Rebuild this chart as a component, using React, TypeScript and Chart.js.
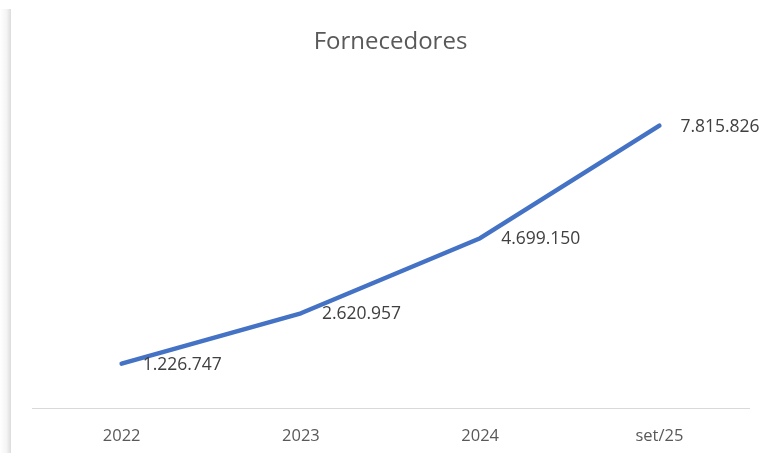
import React, { useEffect, useRef } from "react";
import { Chart, registerables } from "chart.js";

Chart.register(...registerables);

const categories = ["2022", "2023", "2024", "set/25"];
const values = [1226747, 2620957, 4699150, 7815826];
const chartTitle = "Fornecedores";

function fmt(n: number): string {
  return String(n).replace(/\B(?=(\d{3})+(?!\d))/g, ".");
}

const FONT = "'Open Sans', 'Noto Sans', sans-serif";

const labelPlugin = {
  id: "valueLabels",
  afterDatasetsDraw(chart: any) {
    const ctx = chart.ctx;
    const meta = chart.getDatasetMeta(0);
    ctx.save();
    ctx.font = "17.5px " + FONT;
    ctx.fillStyle = "#404040";
    ctx.textAlign = "left";
    ctx.textBaseline = "middle";
    meta.data.forEach((pt: any, i: number) => {
      ctx.fillText(fmt(values[i]), pt.x + 21, pt.y + 1);
    });
    ctx.restore();
  },
};

export default function App() {
  const ref = useRef<HTMLCanvasElement>(null);
  useEffect(() => {
    if (!ref.current) return;
    const chart = new Chart(ref.current, {
      type: "line",
      data: {
        labels: categories,
        datasets: [
          {
            data: values,
            borderColor: "#4472C4",
            borderWidth: 4.5,
            borderCapStyle: "round",
            borderJoinStyle: "round",
            pointRadius: 0,
            pointHoverRadius: 0,
            tension: 0,
            fill: false,
          },
        ],
      },
      options: {
        animation: false,
        responsive: false,
        maintainAspectRatio: false,
        layout: { padding: { left: 32, right: 11, top: 0, bottom: 0 } },
        plugins: {
          legend: { display: false },
          tooltip: { enabled: false },
          title: {
            display: true,
            text: chartTitle,
            color: "#595959",
            font: { family: FONT, size: 24, weight: "normal" },
            padding: { top: 28, bottom: 26 },
          },
        },
        scales: {
          x: {
            offset: true,
            grid: { display: false, drawTicks: false },
            border: { display: true, color: "#d9d9d9", width: 1 },
            ticks: {
              color: "#595959",
              font: { family: FONT, size: 16.5 },
              padding: 18,
              maxRotation: 0,
            },
            afterFit: (scale: any) => {
              scale.height = 45;
            },
          },
          y: {
            display: false,
            min: 0,
            max: 9000000,
          },
        },
      },
      plugins: [labelPlugin],
    });
    return () => chart.destroy();
  }, []);
  return (
    <div style={{ position: "fixed", left: 0, top: 0, width: 760, height: 453, background: "#fff" }}>
      <div
        style={{
          position: "absolute",
          left: 0,
          top: 9,
          width: 11,
          bottom: 0,
          background: "linear-gradient(to right, #ffffff 0%, #f4f4f4 60%, #dcdcdc 100%)",
        }}
      />
      <canvas ref={ref} width={760} height={453} style={{ position: "absolute", left: 0, top: 0 }} />
    </div>
  );
}
